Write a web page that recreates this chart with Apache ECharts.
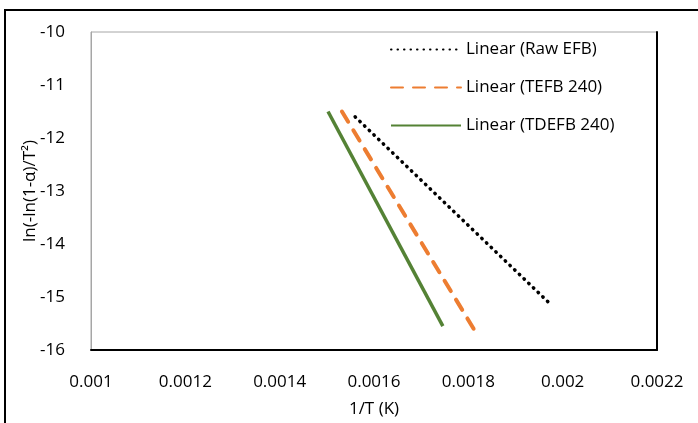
<!DOCTYPE html>
<html>
<head>
<meta charset="utf-8">
<script src="https://cdn.jsdelivr.net/npm/echarts@6/dist/echarts.min.js"></script>
<style>
  html, body { margin: 0; padding: 0; background: #fff; }
  #chart { width: 698px; height: 423px; }
</style>
</head>
<body>
<div id="chart"></div>
<script>
// 各条拟合直线的端点
const seriesNames = ['Linear (Raw EFB)', 'Linear (TEFB 240)', 'Linear (TDEFB 240)']
const rawX = [0.00156, 0.001977]
const rawY = [-11.6, -15.16]
const tefbX = [0.001532, 0.001812]
const tefbY = [-11.5, -15.61]
const tdefbX = [0.0015025, 0.001746]
const tdefbY = [-11.5, -15.55]

const xTicks = [0.001, 0.0012, 0.0014, 0.0016, 0.0018, 0.002, 0.0022]
const yTicks = [-16, -15, -14, -13, -12, -11, -10]

const font = '"Open Sans", "Noto Sans", sans-serif'
const fs = 17
const pair = (xs, ys) => xs.map((x, i) => [x, ys[i]])

const chart = echarts.init(document.getElementById('chart'))
const yAxisBase = {
  type: 'value',
  min: yTicks[0],
  max: yTicks[yTicks.length - 1],
  interval: 1,
  splitLine: { show: false },
  axisTick: { show: false }
}
chart.setOption({
  animation: false,
  textStyle: { fontFamily: font },
  // 外框
  graphic: [{
    type: 'rect',
    shape: { x: 5, y: 10, width: 720, height: 450 },
    style: { fill: 'none', stroke: '#000', lineWidth: 2 },
    z: -1
  }],
  grid: {
    left: 91, right: 41, top: 32, bottom: 71,
    show: true, borderColor: '#a6a6a6', borderWidth: 1
  },
  legend: {
    orient: 'vertical',
    left: 385,
    top: 36,
    itemWidth: 70,
    itemHeight: 14,
    itemGap: 21,
    itemStyle: { opacity: 0 },
    textStyle: { fontFamily: font, fontSize: fs, color: '#000' },
    data: seriesNames
  },
  xAxis: {
    type: 'value',
    min: xTicks[0],
    max: xTicks[xTicks.length - 1],
    interval: 0.0002,
    name: '1/T (K)',
    nameLocation: 'middle',
    nameGap: 51,
    nameTextStyle: { fontFamily: font, fontSize: fs, color: '#000' },
    axisLine: { lineStyle: { color: '#000', width: 2 } },
    axisTick: { show: false },
    splitLine: { show: false },
    axisLabel: { color: '#000', fontSize: fs, margin: 24, fontFamily: font }
  },
  yAxis: [
    Object.assign({}, yAxisBase, {
      name: 'ln(-ln(1-α)/T²)',
      nameLocation: 'middle',
      nameGap: 52,
      nameMoveOverlap: false,
      nameTextStyle: { fontFamily: font, fontSize: fs, color: '#000' },
      axisLine: { show: true, lineStyle: { color: '#a6a6a6', width: 1 } },
      axisLabel: { color: '#000', fontSize: fs, margin: 26, fontFamily: font }
    }),
    Object.assign({}, yAxisBase, {
      position: 'right',
      axisLine: { show: true, lineStyle: { color: '#000', width: 2 } },
      axisLabel: { show: false }
    })
  ],
  series: [
    {
      name: seriesNames[0],
      type: 'line',
      symbol: 'none',
      data: pair(rawX, rawY),
      lineStyle: { color: '#000', width: 3.5, type: [0.5, 6], cap: 'round' },
      itemStyle: { color: '#000' }
    },
    {
      name: seriesNames[1],
      type: 'line',
      symbol: 'none',
      data: pair(tefbX, tefbY),
      lineStyle: { color: '#ed7d31', width: 4, type: [12, 10], cap: 'round' },
      itemStyle: { color: '#ed7d31' }
    },
    {
      name: seriesNames[2],
      type: 'line',
      symbol: 'none',
      data: pair(tdefbX, tdefbY),
      lineStyle: { color: '#548235', width: 3.5 },
      itemStyle: { color: '#548235' }
    }
  ]
})
</script>
</body>
</html>
